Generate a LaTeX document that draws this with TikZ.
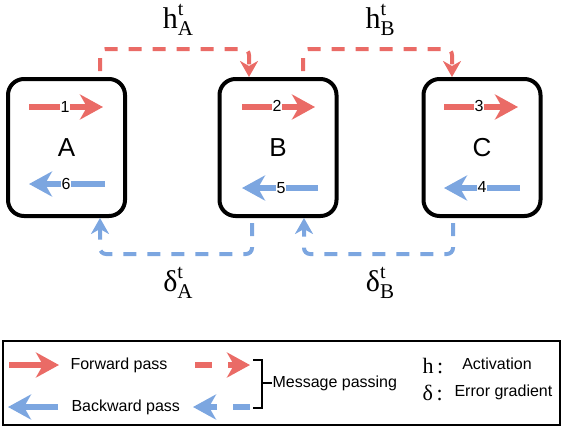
\documentclass[tikz,border=0pt]{standalone}
\usepackage{fontspec}
\setmainfont{Liberation Sans}
\newfontfamily\seriffam{Liberation Serif}
\usetikzlibrary{arrows.meta}
\definecolor{fwd}{RGB}{234,107,102}
\definecolor{bwd}{RGB}{124,166,224}
\newcommand{\msgsym}[2]{{\seriffam #1\rlap{\raisebox{0.42em}{\fontsize{20}{20}\selectfont t}}\raisebox{-0.25em}{\fontsize{21}{21}\selectfont #2}}}
\tikzset{
  unitbox/.style={draw, line width=4pt, rounded corners=16pt, minimum width=117pt, minimum height=137pt},
  fwdarrow/.style={draw=fwd, line width=5.5pt, -{Stealth[length=23pt,width=25pt,inset=7pt]}},
  bwdarrow/.style={draw=bwd, line width=5.5pt, -{Stealth[length=23pt,width=25pt,inset=7pt]}},
  fwdmsg/.style={draw=fwd, line width=4pt, dash pattern=on 13pt off 11pt, rounded corners=6pt, -{Stealth[length=16pt,width=18pt,inset=5pt]}},
  bwdmsg/.style={draw=bwd, line width=4pt, dash pattern=on 13pt off 11pt, rounded corners=6pt, -{Stealth[length=16pt,width=18pt,inset=5pt]}},
  numlbl/.style={fill=white, inner sep=0.3pt, font=\fontsize{16}{16}\selectfont},
  unitlbl/.style={font=\fontsize{26}{26}\selectfont},
  msglbl/.style={font=\fontsize{30}{30}\selectfont},
  legtxt/.style={font=\fontsize{16}{16}\selectfont},
  legsym/.style={font=\seriffam\fontsize{22}{22}\selectfont},
}
\begin{document}
\begin{tikzpicture}[x=1pt,y=-1pt]
\useasboundingbox (0,0) rectangle (562,426);
% boxes
\node[unitbox] (A) at (66.5,147.5) {};
\node[unitbox] (B) at (278,147.5) {};
\node[unitbox] (C) at (482,147.5) {};
\node[unitlbl] (lA) at (66.5,148) {A};
\node[unitlbl] (lB) at (278,148) {B};
\node[unitlbl] (lC) at (482,148) {C};
% inner arrows
\coordinate (a1s) at (29,107); \coordinate (a1e) at (103,107);
\coordinate (a6s) at (105,184); \coordinate (a6e) at (29,184);
\coordinate (b2s) at (242,107); \coordinate (b2e) at (315,107);
\coordinate (b5s) at (318,188); \coordinate (b5e) at (242,188);
\coordinate (c3s) at (444,107); \coordinate (c3e) at (518,107);
\coordinate (c4s) at (520,188); \coordinate (c4e) at (444,188);
\draw[fwdarrow] (a1s) -- (a1e);
\draw[bwdarrow] (a6s) -- (a6e);
\draw[fwdarrow] (b2s) -- (b2e);
\draw[bwdarrow] (b5s) -- (b5e);
\draw[fwdarrow] (c3s) -- (c3e);
\draw[bwdarrow] (c4s) -- (c4e);
\node[numlbl] (n1) at (65,107) {1};
\node[numlbl] (n6) at (66,184) {6};
\node[numlbl] (n2) at (277,106) {2};
\node[numlbl] (n5) at (281,188) {5};
\node[numlbl] (n3) at (479,106) {3};
\node[numlbl] (n4) at (482,187) {4};
% message passing
\coordinate (fa) at (100,71);
\coordinate (fb) at (303,71);
\coordinate (bb) at (252,223);
\coordinate (bc) at (453,223);
\draw[fwdmsg] (fa) -- (100,49) -- (249,49) -- (A.north -| 249,0) ;
\draw[fwdmsg] (fb) -- (303,49) -- (452,49) -- (C.north -| 452,0);
\draw[bwdmsg] (bb) -- (252,254) -- (100,254) -- (A.south -| 100,0);
\draw[bwdmsg] (bc) -- (453,254) -- (304,254) -- (B.south -| 304,0);
\node[msglbl] (hA) at (178,20) {\msgsym{h}{A}};
\node[msglbl] (hB) at (380,20) {\msgsym{h}{B}};
\node[msglbl] (dA) at (178,283) {\msgsym{δ}{A}};
\node[msglbl] (dB) at (380,283) {\msgsym{δ}{B}};
% legend
\node[draw, line width=2pt, minimum width=557pt, minimum height=84pt] (leg) at (281,382.5) {};
\coordinate (lf1) at (9,365); \coordinate (lf2) at (59,365);
\coordinate (lb1) at (58,407); \coordinate (lb2) at (8,407);
\draw[fwdarrow] (lf1) -- (lf2);
\draw[bwdarrow] (lb1) -- (lb2);
\node[legtxt, anchor=west] (tf) at (67,365) {Forward pass};
\node[legtxt, anchor=west] (tb) at (68,407) {Backward pass};
\coordinate (ld1) at (195,365); \coordinate (ld2) at (250,365);
\coordinate (ld3) at (250,407); \coordinate (ld4) at (193,407);
\draw[draw=fwd, line width=5.5pt, dash pattern=on 17pt off 16pt, -{Stealth[length=23pt,width=25pt,inset=7pt]}] (ld1) -- (ld2);
\draw[draw=bwd, line width=5.5pt, dash pattern=on 17pt off 16pt, -{Stealth[length=23pt,width=25pt,inset=7pt]}] (ld3) -- (ld4);
\coordinate (br1) at (253,360); \coordinate (br2) at (253,408);
\draw[line width=2pt] (br1) -- (262,360) -- (262,408) -- (br2);
\draw[line width=2pt] (262,383) -- (272,383);
\node[legtxt, anchor=west] (tm) at (269,383) {Message passing};
\node[legsym, anchor=west] (lh) at (419,366) {h\,:};
\node[legsym, anchor=west] (ld) at (419,393) {δ\,:};
\node[legtxt] (ta) at (497,364) {Activation};
\node[legtxt, anchor=west] (te) at (451,392) {Error gradient};
\end{tikzpicture}
\end{document}
